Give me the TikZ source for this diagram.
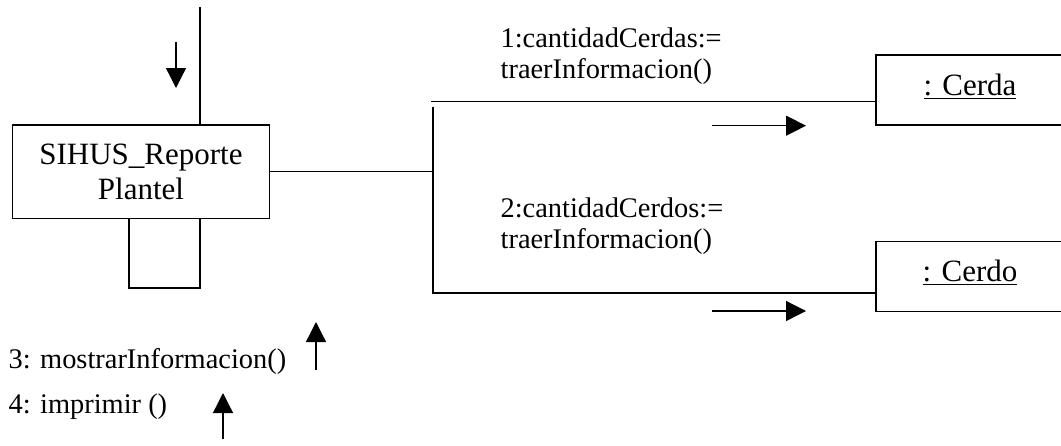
\documentclass[tikz,border=0pt]{standalone}
\usepackage{fontspec}
\setmainfont{Liberation Serif}
\usetikzlibrary{arrows.meta}

\begin{document}
\begin{tikzpicture}[x=0.5pt, y=-0.5pt, line width=0.65pt,
    classbox/.style={draw, inner sep=0pt, align=center, font=\fontsize{15.5}{17.5}\selectfont},
    objbox/.style={draw, minimum width=94pt, minimum height=35pt, inner sep=0pt,
        text height=8pt, text depth=3pt, font=\fontsize{15.5}{17.5}\selectfont},
    msg/.style={anchor=base west, align=left, inner sep=0pt, font=\fontsize{14.2}{15.5}\selectfont},
    flow/.style={-{Triangle[length=10pt, width=10pt]}}]

    \useasboundingbox (0,0) rectangle (1061,445);

    % objects
    \node[classbox, minimum width=128.3pt, minimum height=46.6pt] (rep) at (141,171.7) {SIHUS\_Reporte\\Plantel};
    \node[objbox] (cerda) at (970,90) {\underline{: Cerda}};
    \node[objbox] (cerdo) at (970,276.5) {\underline{: Cerdo}};

    % links
    \coordinate (entry) at (200,7);
    \draw (entry) -- (entry |- rep.north);

    \coordinate (loopl) at (129,288);
    \coordinate (loopr) at (200,288);
    \draw (loopl |- rep.south) -- (loopl) -- (loopr) -- (loopr |- rep.south);

    \coordinate (jtop) at (433,107);
    \coordinate (jbot) at (433,293);
    \coordinate (jlink) at (431,101.7);
    \draw (rep.east) -- (rep.east -| jtop);
    \draw (jtop) -- (jbot) -- (jbot -| cerdo.west);
    \draw (jlink) -- (jlink -| cerda.west);

    % messages (base = last line)
    \node[msg] (m1) at (500,78) {1:cantidadCerdas:=\\traerInformacion()};
    \node[msg] (m2) at (500,248) {2:cantidadCerdos:=\\traerInformacion()};
    \node[msg] (m3) at (8,368) {3: mostrarInformacion()};
    \node[msg] (m4) at (8,413) {4: imprimir ()};

    \draw[flow] (176,42) -- (176,88);
    \draw[flow] (712,125.7) -- (806,125.7);
    \draw[flow] (712,311) -- (806,311);
    \draw[flow] (316,370) -- (316,322);
    \draw[flow] (223,439) -- (223,393);

\end{tikzpicture}
\end{document}
